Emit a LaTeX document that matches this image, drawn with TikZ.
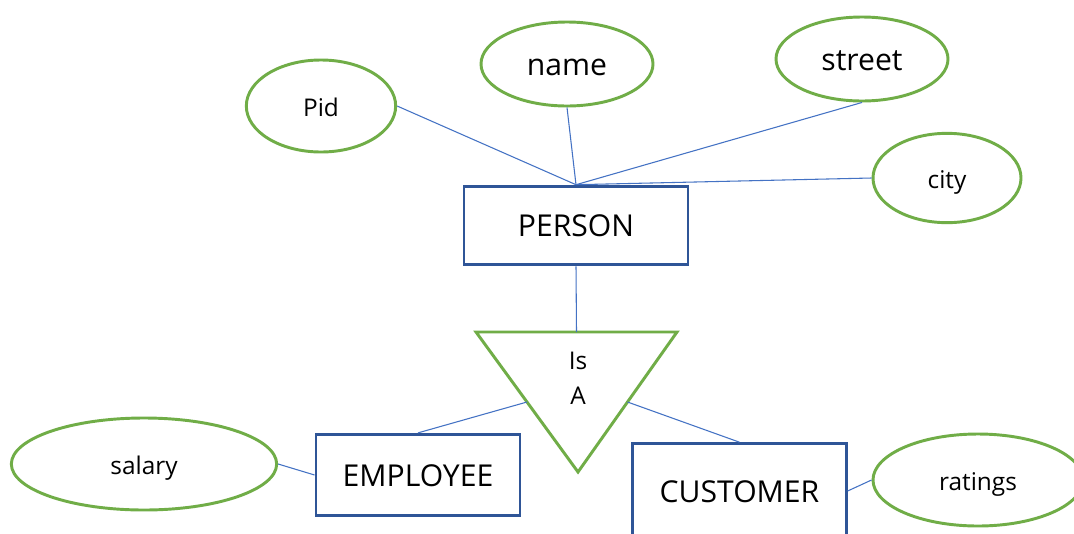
\documentclass[tikz,border=0pt]{standalone}
\usepackage{fontspec}
\setmainfont{Open Sans}
\usetikzlibrary{shapes.geometric,calc}
\definecolor{attrgreen}{HTML}{70AD47}
\definecolor{entblue}{HTML}{2F5597}
\definecolor{linkblue}{HTML}{4472C4}
\tikzset{
  attr/.style={ellipse, draw=attrgreen, line width=2.2pt, inner sep=0pt, fill=white},
  ent/.style={rectangle, draw=entblue, line width=2.2pt, inner sep=0pt, fill=white},
  link/.style={draw=linkblue, line width=0.8pt},
  bigtxt/.style={font=\fontsize{22.6}{27}\selectfont, text height=21.3pt, text depth=4.5pt},
  smalltxt/.style={font=\fontsize{18.3}{22}\selectfont, text height=20pt, text depth=3.8pt},
}
\begin{document}
\begin{tikzpicture}[x=0.75pt,y=-0.75pt]
\clip (0,0) rectangle (1074,533);
\fill[white] (0,0) rectangle (1074,533);
% coordinates of the ISA triangle
\coordinate (tl) at (476,332);
\coordinate (tr) at (677,332);
\coordinate (tb) at (578,472);
\coordinate (ttop) at ($(tl)!0.5!(tr)$);
% entities
\node[ent, bigtxt, minimum width=168pt, minimum height=59pt] (person) at (576,225.5) {PERSON};
\node[ent, bigtxt, minimum width=153pt, minimum height=61pt] (employee) at (418,475) {EMPLOYEE};
\node[ent, bigtxt, minimum width=160pt, minimum height=71pt] (customer) at (739.5,491) {CUSTOMER};
% attributes
\node[attr, smalltxt, minimum width=112pt, minimum height=69pt] (pid) at (321,106) {Pid};
\node[attr, bigtxt, minimum width=129pt, minimum height=63pt] (name) at (567,64) {name};
\node[attr, bigtxt, minimum width=129pt, minimum height=63pt] (street) at (862,59) {street};
\node[attr, smalltxt, minimum width=111pt, minimum height=67pt] (city) at (947,178) {city};
\node[attr, smalltxt, minimum width=199pt, minimum height=69pt] (salary) at (144,464) {salary};
\node[attr, smalltxt, minimum width=157.5pt, minimum height=69pt] (ratings) at (978,480) {ratings};
% ISA triangle
\draw[draw=attrgreen, line width=2.2pt, line join=miter, fill=white] (tl) -- (tr) -- (tb) -- cycle;
\node[font=\fontsize{18.3}{26}\selectfont, align=center, inner sep=0pt] (isa) at (578,378) {Is\\A};
\coordinate (tleft) at ($(tl)!0.5!(tb)$);
\coordinate (tright) at ($(tr)!0.5!(tb)$);
% connectors
\draw[link] (pid.east) -- (person.north);
\draw[link] (name.south) -- (person.north);
\draw[link] (street.south) -- (person.north);
\draw[link] (city.west) -- (person.north);
\draw[link] (person.south) -- (ttop);
\draw[link] (tleft) -- (employee.north);
\draw[link] (tright) -- (customer.north);
\draw[link] (salary.east) -- (employee.west);
\draw[link] (ratings.west) -- (customer.east);
\end{tikzpicture}
\end{document}
